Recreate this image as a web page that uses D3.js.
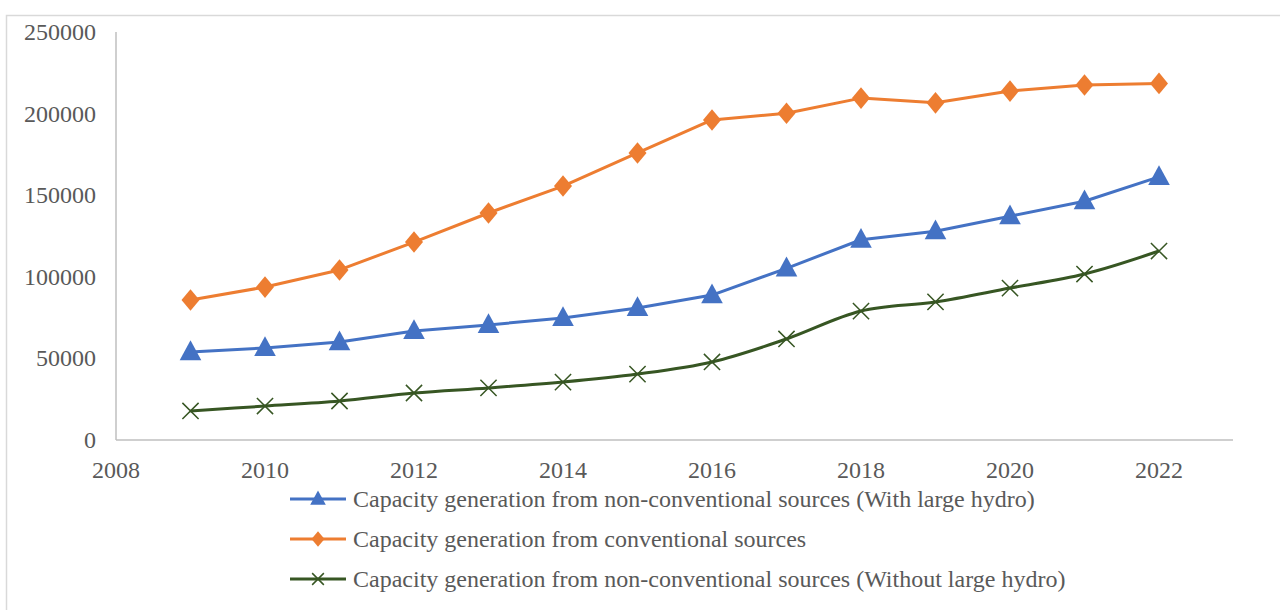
<!DOCTYPE html>
<html>
<head>
<meta charset="utf-8">
<script src="https://cdn.jsdelivr.net/npm/d3@7"></script>
<style>
  body { margin: 0; background: #fff; }
  svg { display: block; font-family: "Liberation Serif", "Times New Roman", serif; }
</style>
</head>
<body>
<svg id="chart"></svg>
<script>
// Data
const years = [2009, 2010, 2011, 2012, 2013, 2014, 2015, 2016, 2017, 2018, 2019, 2020, 2021, 2022];
const withHydro = [53900, 56400, 60000, 66800, 70500, 74800, 80900, 88800, 105200, 122700, 127900, 137100, 146300, 161200];
const conventional = [85800, 93700, 104200, 121300, 139100, 155600, 175900, 196100, 200200, 209500, 206600, 213800, 217500, 218500];
const withoutHydro = [17800, 20800, 23900, 28800, 31900, 35500, 40400, 47800, 61900, 79000, 84600, 93100, 101700, 115800];
const yTicks = [0, 50000, 100000, 150000, 200000, 250000];
const xTicks = [2008, 2010, 2012, 2014, 2016, 2018, 2020, 2022];
const seriesNames = [
  "Capacity generation from non-conventional sources (With large hydro)",
  "Capacity generation from conventional sources",
  "Capacity generation from non-conventional sources (Without large hydro)"
];

const width = 1280;
const height = 610;

const svg = d3.select("#chart")
    .attr("width", width)
    .attr("height", height);

// Outer chart border
svg.append("rect")
    .attr("x", 6.5).attr("y", 15.5)
    .attr("width", width).attr("height", height)
    .attr("fill", "none")
    .attr("stroke", "#d9d9d9")
    .attr("stroke-width", 1.5);

// Scales
const x = d3.scaleLinear().domain([2008, 2022]).range([116, 1159]);
const y = d3.scaleLinear().domain([0, 250000]).range([440, 32]);
const xEnd = 1233;

// Axes lines
svg.append("line")
    .attr("x1", x(2008)).attr("x2", x(2008))
    .attr("y1", y(0)).attr("y2", y(250000))
    .attr("stroke", "#bfbfbf").attr("stroke-width", 1.5);
svg.append("line")
    .attr("x1", x(2008)).attr("x2", xEnd)
    .attr("y1", y(0)).attr("y2", y(0))
    .attr("stroke", "#bfbfbf").attr("stroke-width", 1.5);

// Tick labels
svg.append("g").selectAll("text")
    .data(yTicks)
    .enter().append("text")
    .attr("x", 96)
    .attr("y", d => y(d))
    .attr("dy", "0.33em")
    .attr("text-anchor", "end")
    .attr("font-size", 24)
    .attr("fill", "#595959")
    .text(d => d);

svg.append("g").selectAll("text")
    .data(xTicks)
    .enter().append("text")
    .attr("x", d => x(d))
    .attr("y", 478)
    .attr("text-anchor", "middle")
    .attr("font-size", 24)
    .attr("fill", "#595959")
    .text(d => d);

// Series definitions
const series = [
  { name: seriesNames[0], values: withHydro, color: "#4472c4", marker: "triangle", curve: d3.curveLinear },
  { name: seriesNames[1], values: conventional, color: "#ed7d31", marker: "diamond", curve: d3.curveLinear },
  { name: seriesNames[2], values: withoutHydro, color: "#375623", marker: "cross", curve: d3.curveCatmullRom.alpha(0.5) }
];

function drawMarker(g, type, cx, cy, color, s) {
  if (type === "triangle") {
    g.append("path")
      .attr("d", `M${cx},${cy - s * 0.65} L${cx + s * 0.6},${cy + s * 0.45} L${cx - s * 0.6},${cy + s * 0.45} Z`)
      .attr("fill", color);
  } else if (type === "diamond") {
    g.append("path")
      .attr("d", `M${cx},${cy - s * 0.6} L${cx + s * 0.5},${cy} L${cx},${cy + s * 0.6} L${cx - s * 0.5},${cy} Z`)
      .attr("fill", color);
  } else {
    const h = s * 0.45;
    g.append("path")
      .attr("d", `M${cx - h},${cy - h} L${cx + h},${cy + h} M${cx - h},${cy + h} L${cx + h},${cy - h}`)
      .attr("stroke", color)
      .attr("stroke-width", 1.5)
      .attr("fill", "none");
  }
}

series.forEach(s => {
  const line = d3.line()
      .x((d, i) => x(years[i]))
      .y(d => y(d))
      .curve(s.curve);
  svg.append("path")
      .datum(s.values)
      .attr("d", line)
      .attr("fill", "none")
      .attr("stroke", s.color)
      .attr("stroke-width", 3)
      .attr("stroke-linejoin", "round");
  const mg = svg.append("g");
  s.values.forEach((v, i) => drawMarker(mg, s.marker, x(years[i]), y(v), s.color, 18));
});

// Legend
const legend = svg.append("g");
series.forEach((s, i) => {
  const ly = 499 + i * 40;
  legend.append("line")
      .attr("x1", 290).attr("x2", 346)
      .attr("y1", ly).attr("y2", ly)
      .attr("stroke", s.color)
      .attr("stroke-width", 3);
  drawMarker(legend, s.marker, 318, ly, s.color, 13);
  legend.append("text")
      .attr("x", 353)
      .attr("y", ly)
      .attr("dy", "0.33em")
      .attr("font-size", 24)
      .attr("fill", "#595959")
      .text(s.name);
});
</script>
</body>
</html>
